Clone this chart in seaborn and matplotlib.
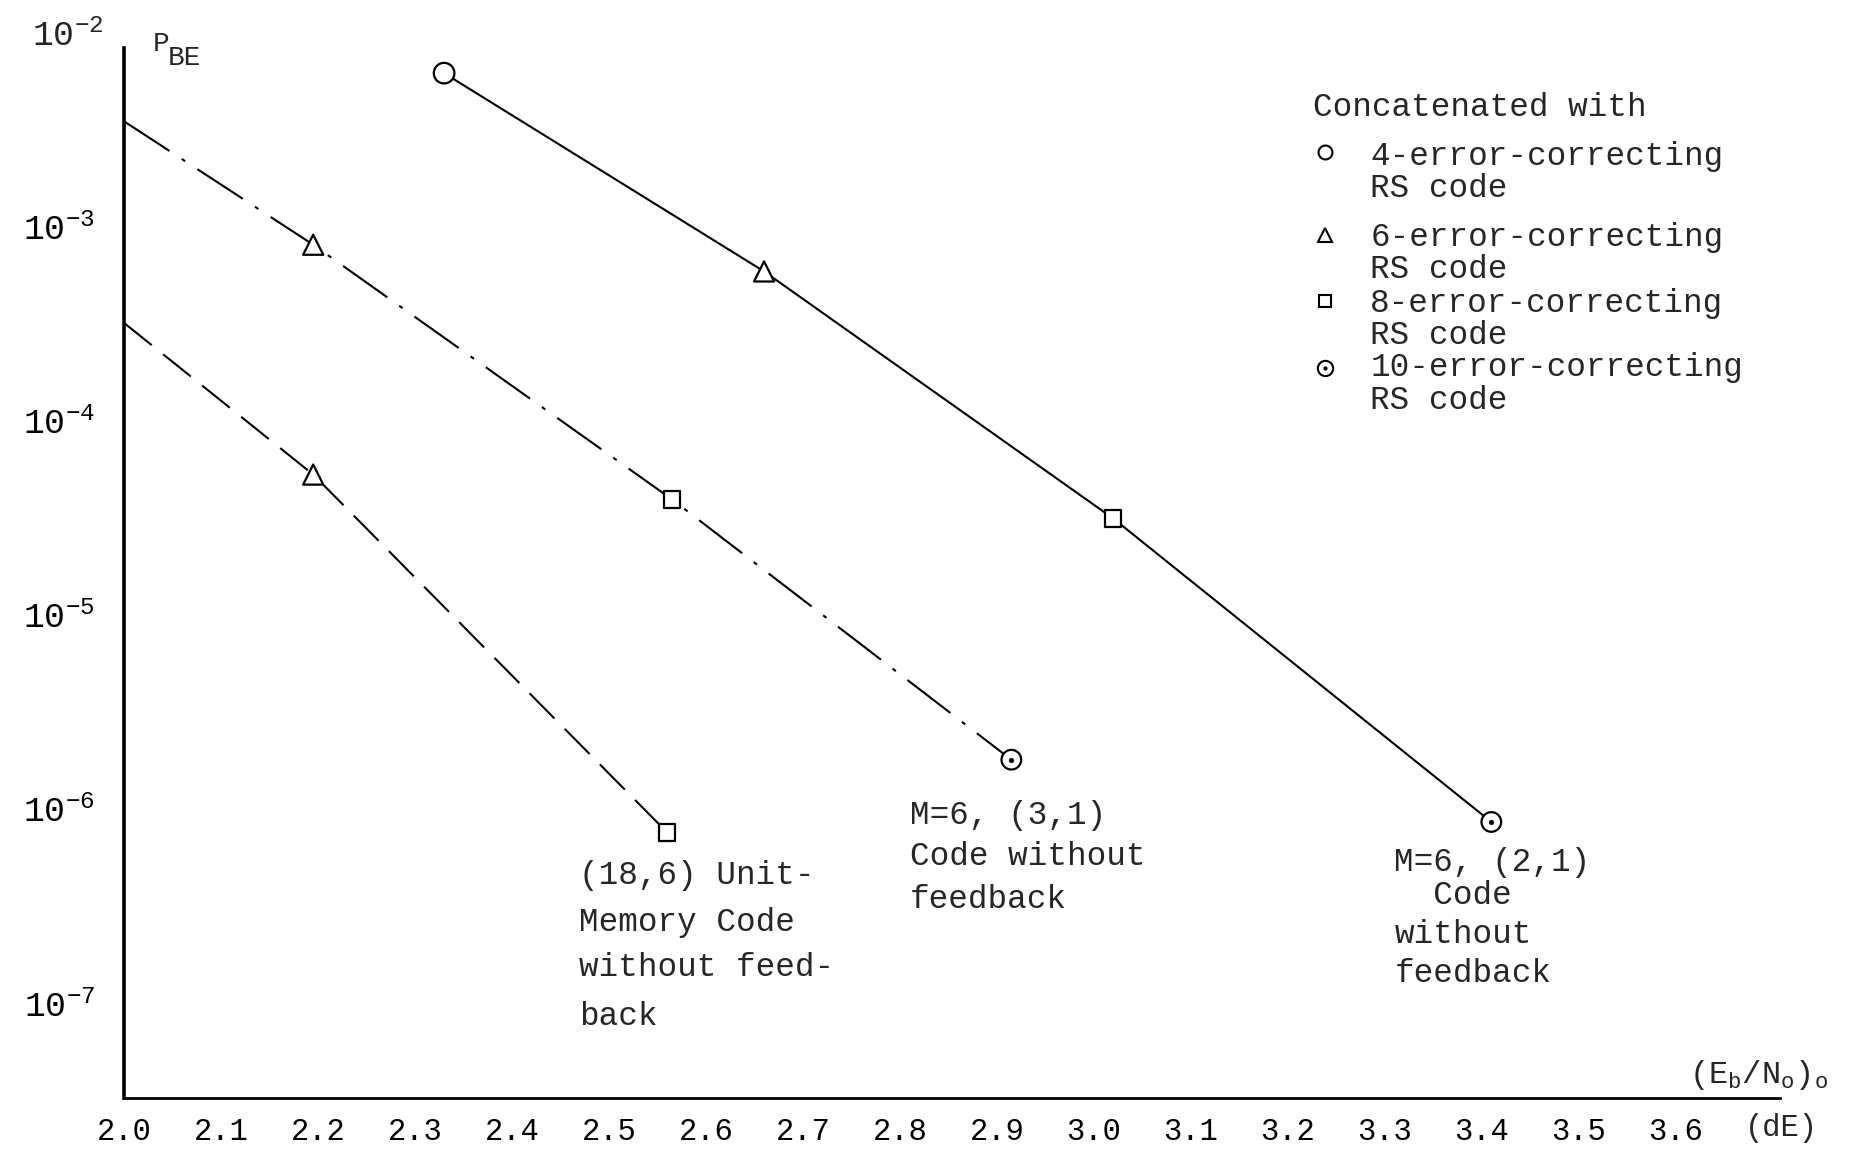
import pandas as pd
import seaborn as sns
import matplotlib.pyplot as plt

# ---- data (Eb/No in dB, bit error probability) ----
snr_21 = [2.33, 2.66, 3.02, 3.41]
pbe_21 = [6.2e-3, 5.9e-4, 3.15e-5, 8.6e-7]
rs_21 = ["4", "6", "8", "10"]

snr_31 = [2.0, 2.195, 2.565, 2.915]
pbe_31 = [3.5e-3, 8.1e-4, 3.95e-5, 1.8e-6]
rs_31 = [None, "6", "8", "10"]

snr_186 = [2.0, 2.195, 2.56]
pbe_186 = [3.2e-4, 5.3e-5, 7.6e-7]
rs_186 = [None, "6", "8"]

x_ticks = [2.0, 2.1, 2.2, 2.3, 2.4, 2.5, 2.6, 2.7, 2.8, 2.9,
           3.0, 3.1, 3.2, 3.3, 3.4, 3.5, 3.6]
y_ticks = [1e-7, 1e-6, 1e-5, 1e-4, 1e-3]
y_tick_labels = [r"$10^{-7}$", r"$10^{-6}$", r"$10^{-5}$", r"$10^{-4}$", r"$10^{-3}$"]

FONT = "Liberation Mono"

sns.set_theme(style="white")
plt.rcParams["font.family"] = [FONT, "DejaVu Sans Mono"]
plt.rcParams["mathtext.fontset"] = "custom"
plt.rcParams["mathtext.rm"] = FONT
plt.rcParams["mathtext.it"] = FONT
plt.rcParams["mathtext.bf"] = FONT

df = pd.concat([
    pd.DataFrame({"snr": snr_21, "pbe": pbe_21, "rs": rs_21, "curve": "(2,1)"}),
    pd.DataFrame({"snr": snr_31, "pbe": pbe_31, "rs": rs_31, "curve": "(3,1)"}),
    pd.DataFrame({"snr": snr_186, "pbe": pbe_186, "rs": rs_186, "curve": "(18,6)"}),
], ignore_index=True)
pts = df.dropna(subset=["rs"])

fig = plt.figure(figsize=(18.72, 11.57), dpi=100)
ax = fig.add_axes([0.0663, 0.0506, 0.951 - 0.0663, 0.9716 - 0.0506])

sns.lineplot(data=df, x="snr", y="pbe", style="curve",
             dashes={"(2,1)": "", "(3,1)": (26, 7, 2, 7), "(18,6)": (17, 7)},
             color="black", linewidth=1.5, estimator=None, sort=False,
             legend=False, ax=ax)

sns.scatterplot(data=pts, x="snr", y="pbe", style="rs", size="rs",
                markers={"4": "o", "6": "^", "8": "s", "10": "o"},
                sizes={"4": 220, "6": 210, "8": 140, "10": 200},
                color="white", edgecolor="black", linewidth=1.6,
                legend=False, zorder=3, ax=ax)
# centre dot of the 10-error-correcting marker
sns.scatterplot(data=pts[pts["rs"] == "10"], x="snr", y="pbe", s=12,
                color="black", edgecolor="black", legend=False, zorder=4, ax=ax)

ax.set_yscale("log")
ax.set_xlim(2.0, 3.708)
ax.set_ylim(10 ** -7.49, 1e-2)

ax.set_xticks(x_ticks, labels=[f"{v:.1f}" for v in x_ticks])
ax.set_yticks(y_ticks, labels=y_tick_labels)
ax.set_yticks([1e-2], labels=[r"$10^{-2}$"], minor=True)
ax.tick_params(axis="both", which="major", direction="inout", length=12,
               width=1.3, color="black", labelcolor="black")
ax.tick_params(axis="x", labelsize=22, pad=7)
ax.tick_params(axis="y", which="both", labelsize=25, pad=15)
ax.tick_params(axis="y", which="minor", length=0)

for side in ["top", "right"]:
    ax.spines[side].set_visible(False)
ax.spines["left"].set_color("black")
ax.spines["left"].set_linewidth(2.6)
ax.spines["left"].set_bounds(10 ** -7.49, 8.4e-3)
ax.spines["bottom"].set_color("black")
ax.spines["bottom"].set_linewidth(2.0)
ax.set_xlabel("")
ax.set_ylabel("")

# axis titles
fig.text(0.0816, 0.962, "P", fontsize=20, va="center")
fig.text(0.0895, 0.950, "BE", fontsize=20, va="center")
fig.text(0.902, 0.071, r"$(\mathrm{E_b/N_o})_o$", fontsize=23, va="center")
fig.text(0.932, 0.0248, "(dE)", fontsize=22, va="center")

# legend block
fs = 23.5
fig.text(0.7015, 0.907, "Concatenated with", fontsize=fs, va="center")
legend_rows = [
    ("o", 10, 0.869, "4-error-correcting", 0.865, 0.837),
    ("^", 10, 0.797, "6-error-correcting", 0.7946, 0.7668),
    ("s", 8, 0.740, "8-error-correcting", 0.7379, 0.710),
    ("o", 11, 0.682, "10-error-correcting", 0.682, 0.654),
]
for mk, ms, ym, label, y1, y2 in legend_rows:
    fig.lines.append(plt.Line2D([0.708], [ym], marker=mk, markersize=ms,
                                markerfacecolor="white", markeredgecolor="black",
                                markeredgewidth=1.5, linestyle="none",
                                transform=fig.transFigure))
    fig.text(0.732, y1, label, fontsize=fs, va="center")
    fig.text(0.732, y2, "RS code", fontsize=fs, va="center")
fig.lines.append(plt.Line2D([0.708], [0.682], marker=".", markersize=4,
                            color="black", linestyle="none",
                            transform=fig.transFigure))

# curve annotations
notes = [
    (0.3093, 0.2436, "(18,6) Unit-"),
    (0.3093, 0.2023, "Memory Code"),
    (0.3093, 0.1640, "without feed-"),
    (0.3093, 0.1218, "back"),
    (0.4860, 0.2951, "M=6, (3,1)"),
    (0.4860, 0.2600, "Code without"),
    (0.4860, 0.2229, "feedback"),
    (0.7449, 0.2549, "M=6, (2,1)"),
    (0.7449, 0.2260, "  Code"),
    (0.7449, 0.1920, "without"),
    (0.7449, 0.1590, "feedback"),
]
for x, y, t in notes:
    fig.text(x, y, t, fontsize=fs, va="center")

fig.savefig("out.png", dpi=100, facecolor="white")
